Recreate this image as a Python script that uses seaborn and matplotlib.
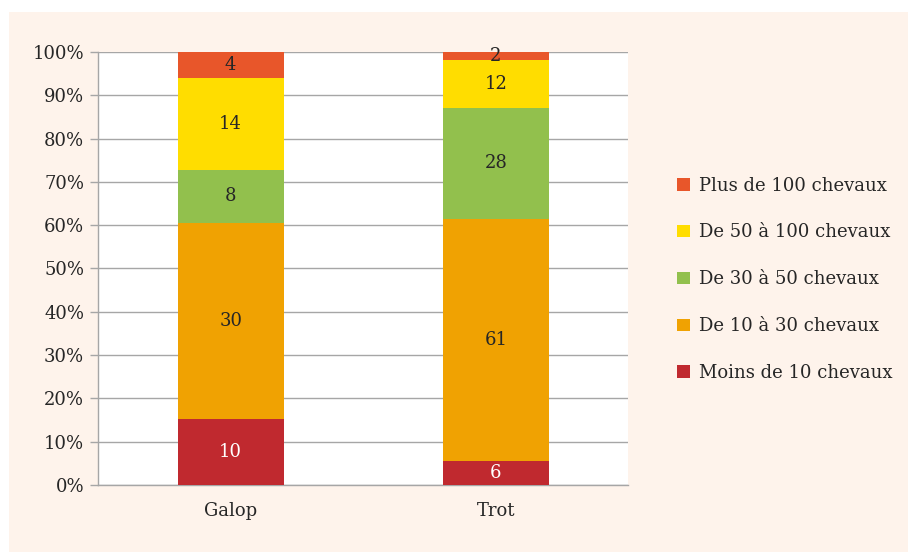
import pandas as pd
import numpy as np
import seaborn as sns
import matplotlib.pyplot as plt
from matplotlib.patches import Rectangle, Patch

# Data
categories = ["Galop", "Trot"]
groups = ["Moins de 10 chevaux", "De 10 à 30 chevaux", "De 30 à 50 chevaux",
          "De 50 à 100 chevaux", "Plus de 100 chevaux"]
galop = [10, 30, 8, 14, 4]
trot = [6, 61, 28, 12, 2]
colors = ["#C0292F", "#F0A202", "#92C04D", "#FFDD00", "#E8562A"]
label_colors = ["white", "#262626", "#262626", "#262626", "#262626"]

sns.set_theme(style="white")
plt.rcParams['font.family'] = ['DejaVu Serif']

df = pd.DataFrame({"Galop": galop, "Trot": trot}, index=groups)
pct = df / df.sum() * 100

fig = plt.figure(figsize=(9.08, 5.52), dpi=100, facecolor="white")
fig.patches.append(Rectangle((9 / 908, 0), 1, 1 - 12 / 552, transform=fig.transFigure,
                             facecolor="#FEF3EB", edgecolor="none", zorder=-10))
ax = fig.add_axes([0.108, 0.1214, 0.584, 0.7844])
ax.set_facecolor("white")

bottom = np.zeros(len(categories))
for i, g in enumerate(groups):
    vals = pct.loc[g, categories].values
    sns.barplot(x=categories, y=vals, bottom=bottom, color=colors[i], width=0.4,
                ax=ax, zorder=3, saturation=1, linewidth=0)
    for j, c in enumerate(categories):
        ax.text(j, bottom[j] + vals[j] / 2, str(df.loc[g, c]), ha="center", va="center",
                fontsize=13, color=label_colors[i], zorder=4)
    bottom += vals

ax.set_ylim(0, 100)
ax.set_xlim(-0.5, 1.5)
ax.set_yticks(np.arange(0, 101, 10))
ax.set_yticklabels([f"{v}%" for v in range(0, 101, 10)], fontsize=13, color="#262626")
ax.set_xticks([0, 1])
ax.set_xticklabels(categories, fontsize=13, color="#262626")
ax.set_xticks([-0.5, 0.5, 1.5], minor=True)
ax.tick_params(axis="x", which="major", length=0, pad=12)
ax.tick_params(axis="x", which="minor", length=5, color="#A6A6A6", width=1)
ax.tick_params(axis="y", length=6, color="#A6A6A6", width=1, left=True, pad=4)
ax.yaxis.grid(True, color="#A6A6A6", linewidth=1, zorder=1)
ax.set_axisbelow(True)
for s in ["top", "right"]:
    ax.spines[s].set_visible(False)
for s in ["left", "bottom"]:
    ax.spines[s].set_color("#A6A6A6")
    ax.spines[s].set_linewidth(1)
ax.set_ylabel("")
ax.set_xlabel("")

handles = [Patch(facecolor=colors[i], edgecolor="none") for i in range(len(groups))][::-1]
fig.legend(handles, groups[::-1], loc="center left", bbox_to_anchor=(0.728, 0.494),
           frameon=False, fontsize=13, handlelength=0.7, handleheight=0.7,
           handletextpad=0.5, labelspacing=1.6, labelcolor="#262626")

fig.savefig("out.png", dpi=100, facecolor=fig.get_facecolor())
